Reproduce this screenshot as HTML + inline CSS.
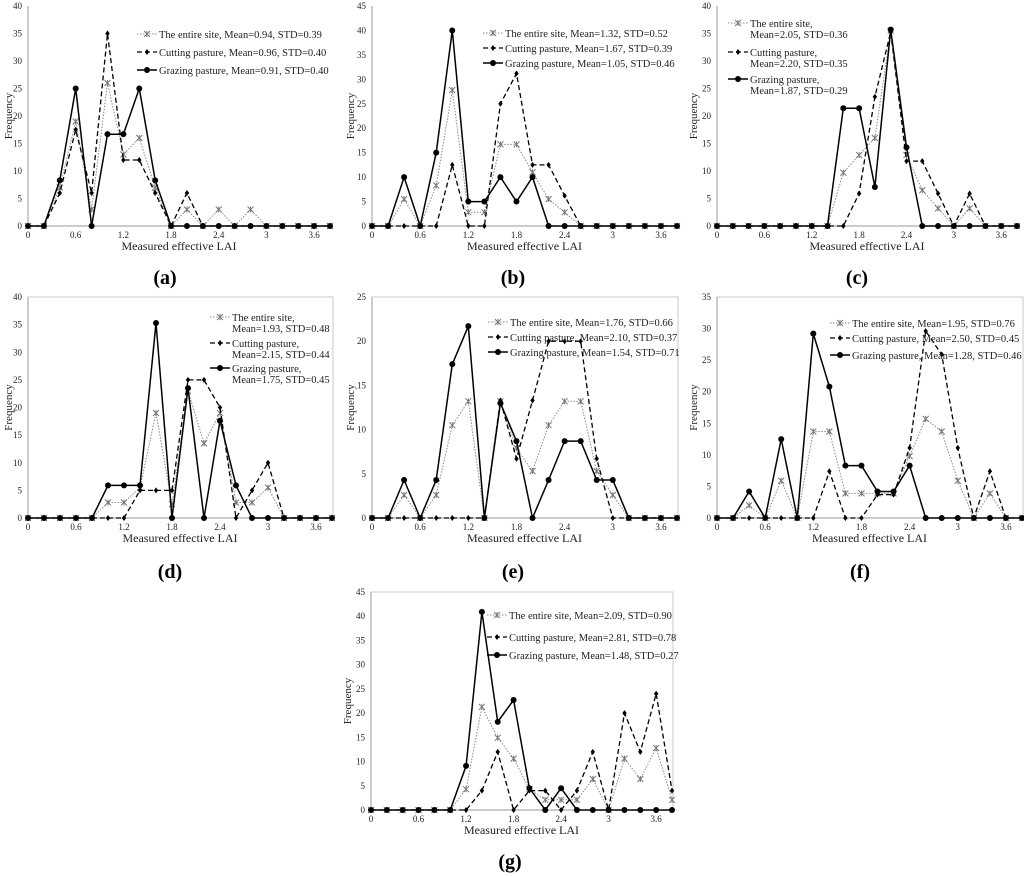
<!DOCTYPE html>
<html><head><meta charset="utf-8"><style>
html,body{margin:0;padding:0;background:#fff;}
svg{display:block;font-family:"Liberation Serif",serif;}
</style></head><body>
<svg id="fig" width="1024" height="876" viewBox="0 0 1024 876"></svg>
<script>
// x categories (measured effective LAI bins)
const xBins = [0,0.2,0.4,0.6,0.8,1.0,1.2,1.4,1.6,1.8,2.0,2.2,2.4,2.6,2.8,3.0,3.2,3.4,3.6,3.8];
const xTickLabels = ["0","0.6","1.2","1.8","2.4","3","3.6"];
const xTickValues = [0,0.6,1.2,1.8,2.4,3.0,3.6];

// panel (a)
const aEntire  = [0,0,7,19,3,26,13,16,7,0,3,0,3,0,3,0,0,0,0,0];
const aCutting = [0,0,6,17.5,6,35,12,12,6,0,6,0,0,0,0,0,0,0,0,0];
const aGrazing = [0,0,8.3,25,0,16.7,16.7,25,8.3,0,0,0,0,0,0,0,0,0,0,0];
const aLegend  = ["The entire site, Mean=0.94, STD=0.39","Cutting pasture, Mean=0.96, STD=0.40","Grazing pasture, Mean=0.91, STD=0.40"];
// panel (b)
const bEntire  = [0,0,5.5,0,8.3,27.8,2.8,2.8,16.7,16.7,11,5.5,2.8,0,0,0,0,0,0,0];
const bCutting = [0,0,0,0,0,12.5,0,0,25,31.2,12.5,12.5,6.2,0,0,0,0,0,0,0];
const bGrazing = [0,0,10,0,15,40,5,5,10,5,10,0,0,0,0,0,0,0,0,0];
const bLegend  = ["The entire site, Mean=1.32, STD=0.52","Cutting pasture, Mean=1.67, STD=0.39","Grazing pasture, Mean=1.05, STD=0.46"];
// panel (c)
const cEntire  = [0,0,0,0,0,0,0,0,9.7,12.9,16,35.5,12.9,6.5,3.2,0,3.2,0,0,0];
const cCutting = [0,0,0,0,0,0,0,0,0,5.9,23.5,35.3,11.8,11.8,5.9,0,5.9,0,0,0];
const cGrazing = [0,0,0,0,0,0,0,0,21.4,21.4,7.1,35.7,14.3,0,0,0,0,0,0,0];
const cLegend  = [["The entire site,","Mean=2.05, STD=0.36"],["Cutting pasture,","Mean=2.20, STD=0.35"],["Grazing pasture,","Mean=1.87, STD=0.29"]];
// panel (d)
const dEntire  = [0,0,0,0,0,2.8,2.8,5.5,19,2.5,23,13.5,19,2.8,2.8,5.5,0,0,0,0];
const dCutting = [0,0,0,0,0,0,0,5,5,5,25,25,20,0,5,10,0,0,0,0];
const dGrazing = [0,0,0,0,0,5.9,5.9,5.9,35.3,0,23.5,0,17.6,5.9,0,0,0,0,0,0];
const dLegend  = [["The entire site,","Mean=1.93, STD=0.48"],["Cutting pasture,","Mean=2.15, STD=0.44"],["Grazing pasture,","Mean=1.75, STD=0.45"]];
// panel (e)
const eEntire  = [0,0,2.6,0,2.6,10.5,13.2,0,13.2,7.9,5.3,10.5,13.2,13.2,5.3,2.6,0,0,0,0];
const eCutting = [0,0,0,0,0,0,0,0,13.3,6.7,13.3,20,20,20,6.7,0,0,0,0,0];
const eGrazing = [0,0,4.3,0,4.3,17.4,21.7,0,13,8.7,0,4.3,8.7,8.7,4.3,4.3,0,0,0,0];
const eLegend  = ["The entire site, Mean=1.76, STD=0.66","Cutting pasture, Mean=2.10, STD=0.37","Grazing pasture, Mean=1.54, STD=0.71"];
// panel (f)
const fEntire  = [0,0,2,0,5.9,0,13.7,13.7,3.9,3.9,3.9,3.9,9.8,15.7,13.7,5.9,0,3.9,0,0];
const fCutting = [0,0,0,0,0,0,0,7.4,0,0,3.7,3.7,11.1,29.6,25.9,11.1,0,7.4,0,0];
const fGrazing = [0,0,4.2,0,12.5,0,29.2,20.8,8.3,8.3,4.2,4.2,8.3,0,0,0,0,0,0,0];
const fLegend  = ["The entire site, Mean=1.95, STD=0.76","Cutting pasture, Mean=2.50, STD=0.45","Grazing pasture, Mean=1.28, STD=0.46"];
// panel (g)
const gEntire  = [0,0,0,0,0,0,4.3,21.3,14.9,10.6,4.3,2.1,2.1,2.1,6.4,0,10.6,6.4,12.8,2.1];
const gCutting = [0,0,0,0,0,0,0,4,12,0,4,4,0,4,12,0,20,12,24,4];
const gGrazing = [0,0,0,0,0,0,9.1,40.9,18.2,22.7,4.5,0,4.5,0,0,0,0,0,0,0];
const gLegend  = ["The entire site, Mean=2.09, STD=0.90","Cutting pasture, Mean=2.81, STD=0.78","Grazing pasture, Mean=1.48, STD=0.27"];

const svg = document.getElementById('fig');
const NS = 'http://www.w3.org/2000/svg';
function mk(tag, attrs, parent){
  const e = document.createElementNS(NS, tag);
  for (const k in attrs) e.setAttribute(k, attrs[k]);
  (parent||svg).appendChild(e);
  return e;
}

const panels = [
 {id:'a', x0:28, x1:330, y0:226, y1:6, ymax:40, frame:false, entire:aEntire, cutting:aCutting, grazing:aGrazing, legend:aLegend, lx:137, ly:[34,52,70], two:false, flab:8, cx:165, tickY:238, titleY:250, labY:284},
 {id:'b', x0:372, x1:677, y0:226, y1:6, ymax:45, frame:false, entire:bEntire, cutting:bCutting, grazing:bGrazing, legend:bLegend, lx:483, ly:[33,48,63], two:false, flab:350, cx:513, tickY:238, titleY:250, labY:284},
 {id:'c', x0:717, x1:1017, y0:226, y1:6, ymax:40, frame:false, entire:cEntire, cutting:cCutting, grazing:cGrazing, legend:cLegend, lx:728, ly:[23,52,79], two:true, flab:693, cx:857, tickY:238, titleY:250, labY:284},
 {id:'d', x0:28, x1:332, y0:518, y1:297, ymax:40, frame:true, entire:dEntire, cutting:dCutting, grazing:dGrazing, legend:dLegend, lx:210, ly:[317,343,368], two:true, flab:8, cx:170, tickY:530, titleY:542, labY:578},
 {id:'e', x0:372, x1:677, y0:518, y1:297, ymax:25, frame:true, entire:eEntire, cutting:eCutting, grazing:eGrazing, legend:eLegend, lx:488, ly:[322,337,352], two:false, flab:350, cx:513, tickY:530, titleY:542, labY:578},
 {id:'f', x0:717, x1:1022, y0:518, y1:297, ymax:35, frame:true, entire:fEntire, cutting:fCutting, grazing:fGrazing, legend:fLegend, lx:830, ly:[323,338,355], two:false, flab:693, cx:860, tickY:530, titleY:542, labY:578},
 {id:'g', x0:371, x1:672, y0:810, y1:592, ymax:45, frame:true, entire:gEntire, cutting:gCutting, grazing:gGrazing, legend:gLegend, lx:487, ly:[615,637,655], two:false, flab:347, cx:510, tickY:822, titleY:834, labY:868}
];

function drawMarker(g, kind, x, y){
  if (kind==='entire'){
    const m = mk('g', {}, g);
    
    
    const s=3;
    mk('line',{x1:x-s,y1:y-s,x2:x+s,y2:y+s,stroke:'#777','stroke-width':1},m);
    mk('line',{x1:x-s,y1:y+s,x2:x+s,y2:y-s,stroke:'#777','stroke-width':1},m);
    mk('line',{x1:x,y1:y-s,x2:x,y2:y+s,stroke:'#777','stroke-width':1},m);
  } else if (kind==='cutting'){
    const m = mk('path',{d:`M${x} ${y-3}L${x+2.2} ${y}L${x} ${y+3}L${x-2.2} ${y}Z`,fill:'#000'},g);
    
    
  } else {
    const m = mk('circle',{cx:x,cy:y,r:3,fill:'#000'},g);
    
    
  }
}
const styles = {
  entire:{stroke:'#8a8a8a','stroke-width':1,'stroke-dasharray':'1.5,1.5',fill:'none'},
  cutting:{stroke:'#000','stroke-width':1.3,'stroke-dasharray':'5,3',fill:'none'},
  grazing:{stroke:'#000','stroke-width':1.5,fill:'none'}
};

panels.forEach(p=>{
  const g = mk('g',{});
  
  
  const xs = v => p.x0 + (v/3.8)*(p.x1-p.x0);
  const ys = v => p.y0 - (v/p.ymax)*(p.y0-p.y1);
  if (p.frame){
    const fr = mk('rect',{x:p.x0,y:p.y1,width:p.x1+1-p.x0,height:p.y0-p.y1,fill:'none',stroke:'#c8c8c8','stroke-width':1},g);
    
    
  }
  const ya = mk('line',{x1:p.x0,y1:p.y1,x2:p.x0,y2:p.y0,stroke:'#999','stroke-width':1},g);
  
  
  const xa = mk('line',{x1:p.x0,y1:p.y0,x2:p.x1,y2:p.y0,stroke:'#999','stroke-width':1},g);
  
  
  for (let v=0; v<=p.ymax; v+=5){
    const t = mk('text',{x:p.x0-6,y:ys(v)+3,'font-size':9,'text-anchor':'end',fill:'#222'},g);
    t.textContent = String(v);
    
    
  }
  xTickValues.forEach((v,i)=>{
    const t = mk('text',{x:xs(v),y:p.tickY,'font-size':9,'text-anchor':'middle',fill:'#222'},g);
    t.textContent = xTickLabels[i];
    
    
  });
  const xt = mk('text',{x:(p.x0+p.x1)/2,y:p.titleY,'font-size':12,'text-anchor':'middle',fill:'#222'},g);
  xt.textContent = 'Measured effective LAI';
  
  
  const ymid = (p.y0+p.y1)/2;
  const yt = mk('text',{x:p.flab,y:ymid,'font-size':11,'text-anchor':'middle',fill:'#222',transform:`rotate(-90 ${p.flab} ${ymid})`,dy:4},g);
  yt.textContent = 'Frequency';
  
  
  const pl = mk('text',{x:p.cx,y:p.labY,'font-size':20,'font-weight':'bold','text-anchor':'middle',fill:'#000'},g);
  pl.textContent = '('+p.id+')';
  
  

  ['entire','cutting','grazing'].forEach(k=>{
    const data = p[k];
    const pts = data.map((v,i)=>xs(xBins[i]).toFixed(1)+','+ys(v).toFixed(1)).join(' ');
    const line = mk('polyline',Object.assign({points:pts},styles[k]),g);
    
    
    data.forEach((v,i)=>drawMarker(g,k,xs(xBins[i]),ys(v)));
  });

  // legend
  const lg = mk('g',{},g);
  
  
  ['entire','cutting','grazing'].forEach((k,i)=>{
    const y = p.ly[i];
    const en = mk('g',{},lg);
    
    
    mk('line',Object.assign({x1:p.lx,y1:y,x2:p.lx+20,y2:y},styles[k]),en);
    drawMarker(en,k,p.lx+10,y);
    const lab = p.legend[i];
    if (p.two){
      const t1 = mk('text',{x:p.lx+22,y:y+4,'font-size':10.5,fill:'#222'},en);
      t1.textContent = lab[0];
      const t2 = mk('text',{x:p.lx+22,y:y+15,'font-size':10.5,fill:'#222'},en);
      t2.textContent = lab[1];
    } else {
      const t = mk('text',{x:p.lx+22,y:y+4,'font-size':10.5,fill:'#222'},en);
      t.textContent = lab;
    }
  });
});
</script>
</body></html>
